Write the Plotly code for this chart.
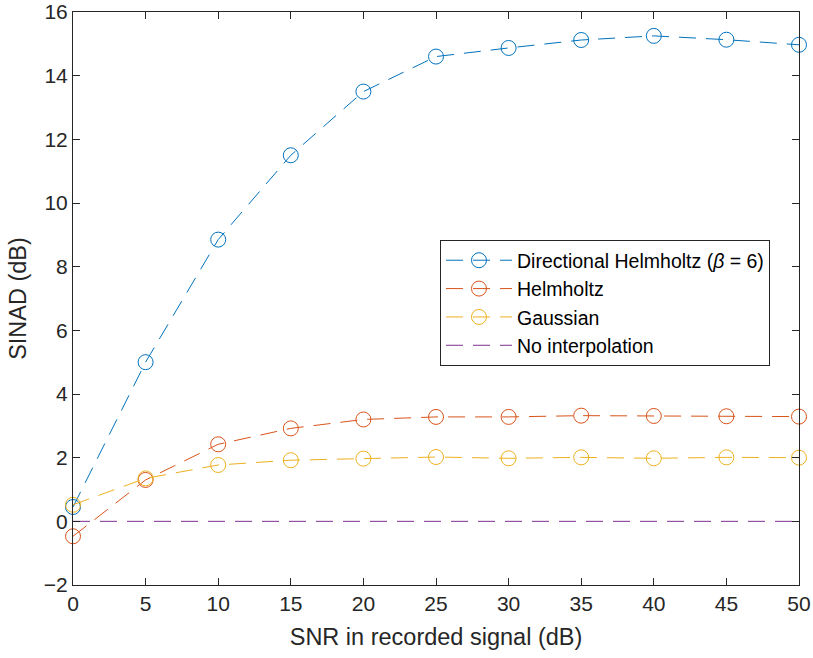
import plotly.graph_objects as go

snr = [0, 5, 10, 15, 20, 25, 30, 35, 40, 45, 50]
directional = [0.45, 5.0, 8.85, 11.5, 13.5, 14.6, 14.87, 15.12, 15.25, 15.13, 14.97]
helmholtz = [-0.47, 1.3, 2.42, 2.92, 3.2, 3.28, 3.28, 3.32, 3.31, 3.30, 3.29]
gaussian = [0.52, 1.35, 1.77, 1.92, 1.97, 2.02, 1.98, 2.01, 1.98, 2.01, 2.0]
no_interp = [0, 0, 0, 0, 0, 0, 0, 0, 0, 0, 0]

names = ["Directional Helmholtz (<i>β</i> = 6)", "Helmholtz", "Gaussian", "No interpolation"]
colors = ["#0072BD", "#D95319", "#EDB120", "#7E2F8E"]
series = [directional, helmholtz, gaussian, no_interp]
has_marker = [True, True, True, False]

FONT = "Liberation Sans, Arial, sans-serif"

fig = go.Figure()
for name, col, ys, mk in zip(names, colors, series, has_marker):
    fig.add_trace(go.Scatter(
        x=snr, y=ys, name=name,
        mode="lines+markers" if mk else "lines",
        line=dict(color=col, width=1, dash="17px,10px"),
        marker=dict(symbol="circle-open", size=15, color=col, line=dict(width=1, color=col)),
        cliponaxis=False,
    ))

axis_common = dict(
    showline=True, linecolor="#262626", linewidth=1, mirror="ticks",
    ticks="inside", ticklen=7, tickcolor="#262626", tickwidth=1,
    showgrid=False, zeroline=False, automargin=False,
    tickfont=dict(family=FONT, size=21, color="#262626"),
    title_font=dict(family=FONT, size=23.5, color="#262626"),
)

fig.update_layout(
    width=813, height=658,
    margin=dict(l=73, r=14, t=12, b=73),
    paper_bgcolor="white", plot_bgcolor="white",
    xaxis=dict(range=[0, 50], tickvals=list(range(0, 51, 5)),
               title=dict(text="SNR in recorded signal (dB)", standoff=14), **axis_common),
    yaxis=dict(range=[-2, 16], tickvals=list(range(-2, 17, 2)),
               title=dict(text="SINAD (dB)", standoff=10), **axis_common),
    legend=dict(x=0.5055, y=0.602, xanchor="left", yanchor="top",
                bordercolor="#262626", borderwidth=1, bgcolor="white",
                font=dict(family=FONT, size=19.5, color="black"),
                itemwidth=66, tracegroupgap=0),
    showlegend=True,
)

fig.write_html("out.html")
